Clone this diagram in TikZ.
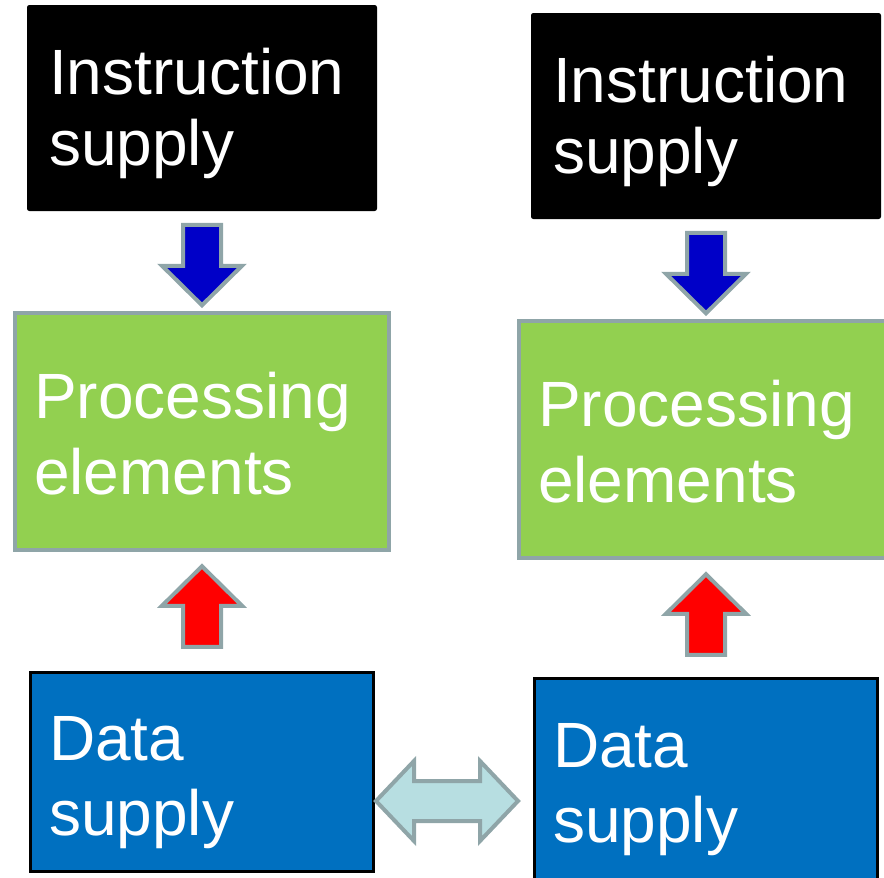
\documentclass[tikz,border=0pt]{standalone}
\usepackage{fontspec}
\setmainfont{Liberation Sans}
\usetikzlibrary{calc}
\definecolor{peGreen}{HTML}{92D050}
\definecolor{dsBlue}{HTML}{0070C0}
\definecolor{edgeGray}{HTML}{8FA5A8}
\definecolor{insBlue}{HTML}{0000C8}
\definecolor{dsCyan}{HTML}{B7DEE1}
\tikzset{
  box/.style={rectangle, inner sep=0pt, outer sep=0pt},
  insbox/.style={box, fill=black, draw=black, line width=1pt, rounded corners=2pt,
    minimum width=349pt, minimum height=205pt},
  pebox/.style={box, fill=peGreen, draw=edgeGray, line width=4pt,
    minimum width=374pt, minimum height=237pt},
  databox/.style={box, fill=dsBlue, draw=black, line width=3pt,
    minimum width=343pt, minimum height=199pt},
  % anchored on the baseline of the last line
  lbl/.style={anchor=base west, inner sep=0pt, text=white, align=left},
  blockarrow/.style={draw=edgeGray, line width=4pt, miter limit=4},
  % vertical block arrow pointing down, centred on the origin
  varrow/.pic={
    \path[pic actions] (-19,-40.5) -- (19,-40.5) -- (19,0.5) -- (40,0.5)
      -- (0,40) -- (-40,0.5) -- (-19,0.5) -- cycle;
  },
  % horizontal double-headed block arrow, centred on the origin
  harrow/.pic={
    \path[pic actions] (-71,0) -- (-33,-40) -- (-33,-20) -- (33,-20) -- (33,-40)
      -- (71,0) -- (33,40) -- (33,20) -- (-33,20) -- (-33,40) -- cycle;
  },
}
\begin{document}
\begin{tikzpicture}[x=1pt,y=-1pt]
  \useasboundingbox (0,0) rectangle (884,878);
  \clip (0,0) rectangle (884,878);

  % left column
  \node[insbox]  (ins1)  at (202,108)   {};
  \node[pebox]   (pe1)   at (202,431.5) {};
  \node[databox] (data1) at (202,772)   {};

  % right column
  \node[insbox]  (ins2)  at (706,116)   {};
  \node[pebox]   (pe2)   at (706,439.5) {};
  \node[databox, minimum height=203pt] (data2) at (706,780) {};

  % labels
  \node[lbl, font=\fontsize{64}{71}\selectfont] (ins1txt) at (49,165)  {Instruction\\supply};
  \node[lbl, font=\fontsize{64}{71}\selectfont] (ins2txt) at (553,173) {Instruction\\supply};
  \node[lbl, font=\fontsize{64}{76}\selectfont] (pe1txt)  at (34,494)  {Processing\\elements};
  \node[lbl, font=\fontsize{64}{76}\selectfont] (pe2txt)  at (538,502) {Processing\\elements};
  \node[lbl, font=\fontsize{64}{75}\selectfont] (data1txt) at (49,835) {Data\\supply};
  \node[lbl, font=\fontsize{64}{75}\selectfont] (data2txt) at (553,842) {Data\\supply};

  % instruction flow (down)
  \pic[blockarrow, fill=insBlue] at ($(ins1.south)!0.5!(pe1.north)+(0,3.5)$) {varrow};
  \pic[blockarrow, fill=insBlue] at ($(ins2.south)!0.5!(pe2.north)+(0,3.5)$) {varrow};

  % data flow (up)
  \pic[blockarrow, fill=red, rotate=180] at ($(pe1.south)!0.5!(data1.north)+(0,-5)$) {varrow};
  \pic[blockarrow, fill=red, rotate=180] at ($(pe2.south)!0.5!(data2.north)+(0,-4)$) {varrow};

  % exchange between the two data supplies
  \pic[blockarrow, fill=dsCyan] at ($(data1.east)!0.5!(data2.west)+(-7,25)$) {harrow};
\end{tikzpicture}
\end{document}
